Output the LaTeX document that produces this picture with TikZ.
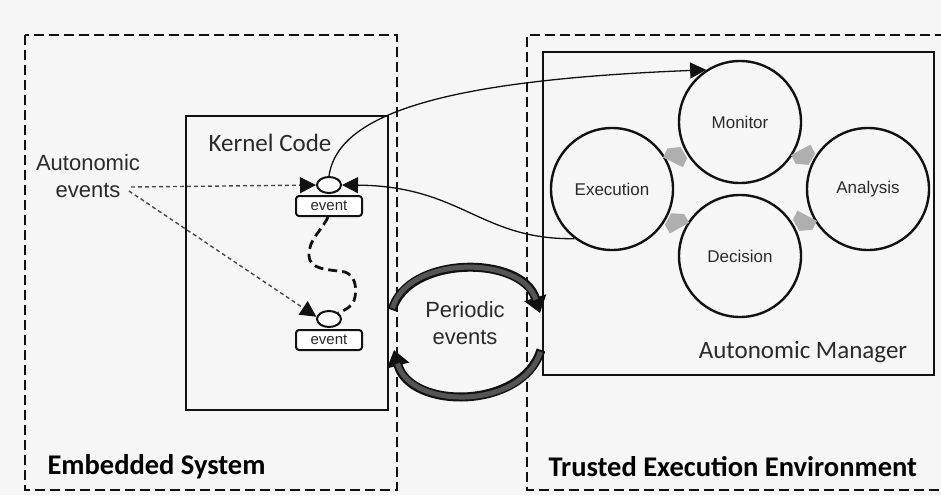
\documentclass[tikz,border=0pt]{standalone}
\usepackage{fontspec}
\setmainfont{Liberation Sans}
\newfontfamily\calfont{Carlito}
\usetikzlibrary{arrows.meta,shapes.geometric}
\definecolor{bg}{HTML}{F6F6F6}
\definecolor{ink}{HTML}{111111}
\definecolor{txt}{HTML}{2A2A2A}
\definecolor{gapgray}{HTML}{AFAFAF}
\definecolor{pergray}{HTML}{555555}
\newcommand\gapArrow[2]{\fill[gapgray, shift={#1}, rotate=#2] (-7,-11) -- (3,-11) -- (10,0) -- (3,11) -- (-7,11) -- cycle;}
\begin{document}
\begin{tikzpicture}[x=1pt,y=-1pt,
  bigdash/.style={draw=ink, line width=2.6pt, dash pattern=on 10pt off 5pt},
  solidbox/.style={draw=ink, line width=2.3pt, inner sep=0pt},
  circ/.style={circle, draw=ink, line width=2.4pt, minimum size=122pt, inner sep=0pt, font=\fontsize{17}{20}\selectfont, text=txt},
  evbox/.style={rectangle, rounded corners=3pt, draw=ink, line width=2pt, minimum width=66pt, minimum height=20pt, inner sep=0pt, font=\fontsize{15}{16}\selectfont, text=txt, fill=white},
  evell/.style={ellipse, draw=ink, line width=2pt, minimum width=24pt, minimum height=16pt, inner sep=0pt, fill=white},
  thindash/.style={draw=txt!85, line width=1.4pt, dash pattern=on 4pt off 3pt},
  thinline/.style={draw=ink, line width=1.3pt},
  tritip/.style={-{Triangle[length=16pt,width=16pt,color=ink]}},
  wiggle/.style={draw=ink, line width=2.8pt, dash pattern=on 9pt off 5pt},
  calib/.style={font=\calfont\fontsize{25}{30}\selectfont, text=txt},
  calbold/.style={font=\calfont\bfseries\fontsize{28.5}{32}\selectfont, text=black},
  arial/.style={font=\fontsize{22}{27}\selectfont, text=txt, align=center}
]
\useasboundingbox (0,0) rectangle (941,495);
\fill[bg] (0,0) rectangle (941,495);

% dashed outer boxes
\draw[bigdash] (25,35) rectangle (397,490);
\draw[bigdash] (960,35) -- (527,35) -- (527,490) -- (960,490);

% kernel box
\node[solidbox, minimum width=202pt, minimum height=294pt] (kernel) at (287,263) {};
\node[calib] (kc) at (270,143) {Kernel Code};

% autonomic manager box
\node[solidbox, minimum width=391pt, minimum height=323pt] (am) at (738.5,213.5) {};
\node[calib] (aml) at (803,352) {Autonomic Manager};

% bottom labels
\node[calbold, anchor=west] (es) at (44,467) {Embedded System};
\node[calbold, anchor=west] (tee) at (545,467) {Trusted Execution Environment};

% circles
\node[circ] (mon) at (740,122) {Monitor};
\node[circ] (dec) at (740,256) {Decision};
\node[circ] (exe) at (612,189) {Execution};
\node[circ] (ana) at (868,189) {Analysis};

% gray cycle arrows
\gapArrow{(676,156)}{63.8}
\gapArrow{(804,156)}{-62}
\gapArrow{(804,222)}{-117.6}
\gapArrow{(676,222)}{119}

% events
\node[evell] (e1) at (329,185) {};
\node[evbox] (ev1) at (329,206) {event};
\node[evell] (e2) at (329,319) {};
\node[evbox] (ev2) at (329,340) {event};

% autonomic events
\node[arial] (ae) at (88,176) {Autonomic\\events};
\coordinate (aeo1) at (131,187);
\coordinate (aeo2) at (129,191);
\draw[thindash, tritip] (aeo1) -- (e1.west);
\draw[thindash, tritip] (aeo2) -- (e2.170);

% curve to monitor
\draw[thinline, tritip] (e1.north) .. controls (338,112) and (450,80) .. (mon.123);
% curve from execution
\draw[thinline, tritip] (exe.233) .. controls (480,240) and (462,186) .. (e1.east);

% wiggle dashed
\draw[wiggle] (ev1.265) to[out=-115,in=90] (309,255) to[out=-90,in=170] (345,272) to[out=-20,in=80] (355,297) to[out=-100,in=20] (e2.north east);

% periodic events
\node[arial] (pe) at (465,323) {Periodic\\events};
\coordinate (p1) at (392,310);
\coordinate (p2) at (540,313);
\coordinate (p3) at (541,350);
\coordinate (p4) at (394,350);
\draw[line width=9pt, ink, -{Triangle[length=16pt,width=22pt]}] (p1) .. controls (408,255) and (522,255) .. (p2);
\draw[line width=5pt, pergray, shorten >=14pt, shorten <=2pt] (p1) .. controls (408,255) and (522,255) .. (p2);
\draw[line width=9pt, ink, -{Triangle[length=16pt,width=22pt]}] (p3) .. controls (522,410) and (410,410) .. (p4);
\draw[line width=5pt, pergray, shorten >=14pt, shorten <=2pt] (p3) .. controls (522,410) and (410,410) .. (p4);
\end{tikzpicture}
\end{document}
